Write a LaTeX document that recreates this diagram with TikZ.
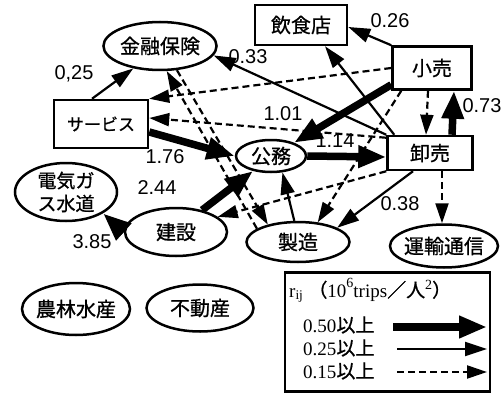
\documentclass[tikz,border=0pt]{standalone}
\usepackage{fontspec}
\usetikzlibrary{shapes.geometric,arrows.meta}
\newfontfamily\cjk[FakeBold=0.8]{Noto Sans CJK JP}
\newfontfamily\labfont{Liberation Sans}
\newfontfamily\serfont{Liberation Serif}
\begin{document}
\begin{tikzpicture}[x=1pt,y=-1pt,
 nd/.style={draw, line width=2.5pt, inner sep=0pt, font=\cjk\fontsize{20}{24}\selectfont, align=center},
 ell/.style={nd, ellipse},
 boxnd/.style={nd, rectangle},
 arrbig/.style={line width=7.5pt, -{Triangle[length=28pt,width=21pt]}},
 arrthin/.style={line width=2.2pt, -{Triangle[length=22pt,width=14pt]}},
 arrdash/.style={line width=2.2pt, dash pattern=on 7pt off 4pt, -{Triangle[length=20pt,width=13pt]}},
 lab/.style={font=\labfont\fontsize{20}{21}\selectfont, inner sep=0pt},
 legtext/.style={anchor=base west, inner sep=0pt, font=\serfont\fontsize{19}{20}\selectfont},
]
\useasboundingbox (0,0) rectangle (502,393);
\fill[white] (0,0) rectangle (502,393);

% nodes
\node[ell, minimum width=104pt, minimum height=48pt] (kin) at (160,46) {金融保険};
\node[boxnd, minimum width=92pt, minimum height=40pt] (inshoku) at (301,25) {飲食店};
\node[boxnd, minimum width=79pt, minimum height=43pt] (kouri) at (432,68) {小売};
\node[boxnd, minimum width=94pt, minimum height=48pt, font=\cjk\fontsize{17}{20}\selectfont] (service) at (101,124) {サービス};
\node[ell, minimum width=70pt, minimum height=32pt] (koumu) at (271,156) {公務};
\node[boxnd, minimum width=85pt, minimum height=34pt] (oroshi) at (430,153) {卸売};
\node[ell, minimum width=102pt, minimum height=58pt, inner sep=-4pt, font=\cjk\fontsize{19}{23}\selectfont] (denki) at (66,192) {電気ガ\\ス水道};
\node[ell, minimum width=102pt, minimum height=48pt] (kensetsu) at (176,232) {建設};
\node[ell, minimum width=103pt, minimum height=40pt] (seizou) at (298,242) {製造};
\node[ell, minimum width=108pt, minimum height=43pt, inner sep=-3pt] (unyu) at (444,246) {運輸通信};
\node[ell, minimum width=108pt, minimum height=52pt, inner sep=-3pt] (nourin) at (76,309) {農林水産};
\node[ell, minimum width=107pt, minimum height=47pt] (fudou) at (200,308) {不動産};

% thin solid connectors
\draw[arrthin] ([xshift=-9pt]service.north) -- (kin.-140);
\draw[arrthin] (oroshi.north west) -- (kin.-10);
\draw[arrthin] (kouri.north west) -- ([yshift=-2pt]inshoku.east);
\draw[arrthin] ([xshift=8pt]oroshi.north west) -- ([xshift=24pt]inshoku.south);
\draw[arrthin] (seizou.100) -- (koumu.-55);
\draw[arrthin] ([xshift=-17pt]oroshi.south) -- (seizou.20);

% dashed connectors
\draw[arrdash] (kouri.west) -- (service.north east);
\draw[arrdash] ([yshift=-3pt]oroshi.north west) -- ([yshift=6pt]service.east);
\draw[arrdash] (kin.-55) -- (seizou.150);
\draw[arrdash] (seizou.162) -- (kin.-75);
\draw[arrdash] ([xshift=10pt]kouri.south west) -- (seizou.45);
\draw[arrdash] (oroshi.south west) -- (kensetsu.20);
\draw[arrdash] ([xshift=-4pt]kouri.south) -- ([xshift=-4pt]oroshi.north);
\draw[arrdash] ([xshift=12pt]oroshi.south) -- ([xshift=-2pt]unyu.north);

% thick connectors
\draw[arrbig] ([xshift=22pt]oroshi.north) -- ([xshift=22pt]kouri.south);
\draw[arrbig] ([yshift=6pt]kouri.south west) -- (koumu.30);
\draw[arrbig] (koumu.east) -- ([yshift=-4pt]oroshi.west);
\draw[arrbig] ([yshift=-8pt]service.east) -- (koumu.west);
\draw[arrbig] (kensetsu.40) -- (koumu.-140);
\draw[arrbig] (kensetsu.west) -- (denki.-30);

% labels
\node[lab] (l025) at (74,74) {0,25};
\node[lab] (l033) at (248,57) {0.33};
\node[lab] (l026) at (390,21) {0.26};
\node[lab] (l101) at (283,114) {1.01};
\node[lab] (l114) at (335,141) {1.14};
\node[lab] (l176) at (165,157) {1.76};
\node[lab] (l244) at (157,188) {2.44};
\node[lab] (l385) at (92,242) {3.85};
\node[lab] (l073) at (482,106) {0.73};
\node[lab] (l038) at (400,204) {0.38};

% legend
\node[draw, line width=2.2pt, minimum width=205pt, minimum height=119pt, inner sep=0pt] (legend) at (387.5,332) {};
\node[anchor=base west, inner sep=0pt, font=\serfont\fontsize{19}{20}\selectfont] (ltitle) at (289,297)
 {r\textsubscript{ij}\hspace{5pt}{\cjk （}10\raisebox{10pt}{\fontsize{14}{14}\selectfont 6}trips{\cjk ／人}\raisebox{8pt}{\fontsize{14}{14}\selectfont 2}{\cjk ）}};
\node[legtext] (r1) at (303,332) {0.50{\cjk 以上}};
\node[legtext] (r2) at (303,355) {0.25{\cjk 以上}};
\node[legtext] (r3) at (303,378) {0.15{\cjk 以上}};
\coordinate (a1s) at (393,327);
\coordinate (a1e) at (487,327);
\coordinate (a2s) at (397,349);
\coordinate (a2e) at (487,349);
\coordinate (a3s) at (397,372);
\coordinate (a3e) at (487,372);
\draw[arrbig] (a1s) -- (a1e);
\draw[arrthin] (a2s) -- (a2e);
\draw[arrdash] (a3s) -- (a3e);
\end{tikzpicture}
\end{document}
